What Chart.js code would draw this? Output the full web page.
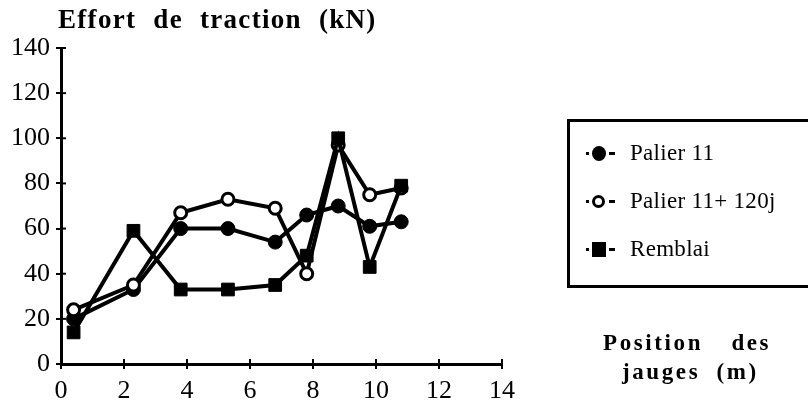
<!DOCTYPE html>
<html>
<head>
<meta charset="utf-8">
<script src="https://cdn.jsdelivr.net/npm/chart.js@4.4.1/dist/chart.umd.min.js"></script>
<style>
  body { margin: 0; background: #fff; }
  #wrap { position: relative; width: 808px; height: 407px; overflow: hidden; font-family: "Liberation Serif", serif; color: #000; }
  #c { position: absolute; left: 0; top: 0; }
  .ttl { position: absolute; font-weight: bold; font-size: 27px; letter-spacing: 1.3px; word-spacing: 9px; white-space: nowrap; }
  #legend { position: absolute; left: 567px; top: 119px; width: 300px; height: 169px; border: 3px solid #000; box-sizing: border-box; }
  .item { position: absolute; left: 16px; font-size: 23px; letter-spacing: 0.3px; white-space: nowrap; line-height: 28px; }
  .mk { display: inline-block; vertical-align: middle; position: relative; width: 30px; height: 14px; margin-right: 14px; top: -2px; }
  .mk .dot { position: absolute; left: 0; top: 6px; width: 3px; height: 3px; background: #000; }
  .mk .dash { position: absolute; left: 23px; top: 6px; width: 6px; height: 3px; background: #000; }
  .mk .sym { position: absolute; left: 6px; top: 0; width: 14px; height: 15px; box-sizing: border-box; background: #000; }
</style>
</head>
<body>
<div id="wrap">
  <canvas id="c" width="808" height="407"></canvas>
  <div class="ttl" style="left:58px; top:4px;">Effort de traction (kN)</div>
  <div class="ttl" style="left:603px; top:330px; font-size:23px; letter-spacing:2.6px; word-spacing:20px;">Position des</div>
  <div class="ttl" style="left:622px; top:359px; font-size:23px; letter-spacing:2.6px; word-spacing:8px;">jauges (m)</div>
  <div id="legend">
    <div class="item" style="top:17px;"><span class="mk"><span class="dot"></span><span class="sym" style="border-radius:50%;"></span><span class="dash"></span></span>Palier 11</div>
    <div class="item" style="top:65px;"><span class="mk"><span class="dot"></span><span class="sym" style="border-radius:50%; background:#fff; border:3px solid #000; width:13px; height:13px; top:1px;"></span><span class="dash"></span></span>Palier 11+ 120j</div>
    <div class="item" style="top:113px;"><span class="mk"><span class="dot"></span><span class="sym"></span><span class="dash"></span></span>Remblai</div>
  </div>
</div>
<script>
var positions = [0.4, 2.3, 3.8, 5.3, 6.8, 7.8, 8.8, 9.8, 10.8];
var palier11 = [20, 33, 60, 60, 54, 66, 70, 61, 63];
var palier11_120j = [24, 35, 67, 73, 69, 40, 97, 75, 78];
var remblai = [14, 59, 33, 33, 35, 48, 100, 43, 79];

function pts(ys) {
  var out = [];
  for (var i = 0; i < positions.length; i++) {
    out.push({x: positions[i], y: ys[i]});
  }
  return out;
}

// small ticks on the inner side of the axes too
var crossTicks = {
  id: 'crossTicks',
  afterDraw: function(chart) {
    var ctx = chart.ctx;
    var xs = chart.scales.x, ys = chart.scales.y;
    ctx.save();
    ctx.strokeStyle = '#000';
    ctx.lineWidth = 2;
    xs.ticks.forEach(function(t) {
      var px = xs.getPixelForValue(t.value);
      ctx.beginPath(); ctx.moveTo(px, ys.bottom); ctx.lineTo(px, ys.bottom - 5); ctx.stroke();
    });
    ys.ticks.forEach(function(t) {
      var py = ys.getPixelForValue(t.value);
      ctx.beginPath(); ctx.moveTo(xs.left, py); ctx.lineTo(xs.left + 5, py); ctx.stroke();
    });
    ctx.restore();
  }
};

var ctx = document.getElementById('c').getContext('2d');
var myChart = new Chart(ctx, {
  type: 'line',
  data: {
    datasets: [{
      label: 'Palier 11',
      data: pts(palier11),
      borderColor: '#000',
      borderWidth: 4,
      pointStyle: 'circle',
      pointRadius: 7,
      pointBackgroundColor: '#000',
      pointBorderColor: '#000',
      pointBorderWidth: 1,
      tension: 0,
      order: 2
    }, {
      label: 'Palier 11+ 120j',
      data: pts(palier11_120j),
      borderColor: '#000',
      borderWidth: 4,
      pointStyle: 'circle',
      pointRadius: 6,
      pointBackgroundColor: '#fff',
      pointBorderColor: '#000',
      pointBorderWidth: 3,
      tension: 0,
      order: 1
    }, {
      label: 'Remblai',
      data: pts(remblai),
      borderColor: '#000',
      borderWidth: 4,
      pointStyle: 'rect',
      pointRadius: 9,
      pointBackgroundColor: '#000',
      pointBorderColor: '#000',
      pointBorderWidth: 1,
      tension: 0,
      order: 0
    }]
  },
  options: {
    responsive: false,
    animation: false,
    layout: { padding: { left: 0, top: 48, right: 306, bottom: 0 } },
    plugins: {
      legend: { display: false },
      tooltip: { enabled: false }
    },
    scales: {
      x: {
        type: 'linear',
        min: 0,
        max: 14,
        ticks: { stepSize: 2, color: '#000', padding: 7, font: { family: 'Liberation Serif', size: 26 } },
        grid: { drawOnChartArea: false, color: '#000', lineWidth: 2, tickLength: 5 },
        border: { color: '#000', width: 3 },
        afterFit: function(scale) { scale.height = 43; }
      },
      y: {
        min: 0,
        max: 140,
        ticks: { stepSize: 20, color: '#000', padding: 6, font: { family: 'Liberation Serif', size: 26 } },
        grid: { drawOnChartArea: false, color: '#000', lineWidth: 2, tickLength: 5 },
        border: { color: '#000', width: 3 },
        afterFit: function(scale) { scale.width = 61; }
      }
    }
  },
  plugins: [crossTicks]
});
</script>
</body>
</html>
